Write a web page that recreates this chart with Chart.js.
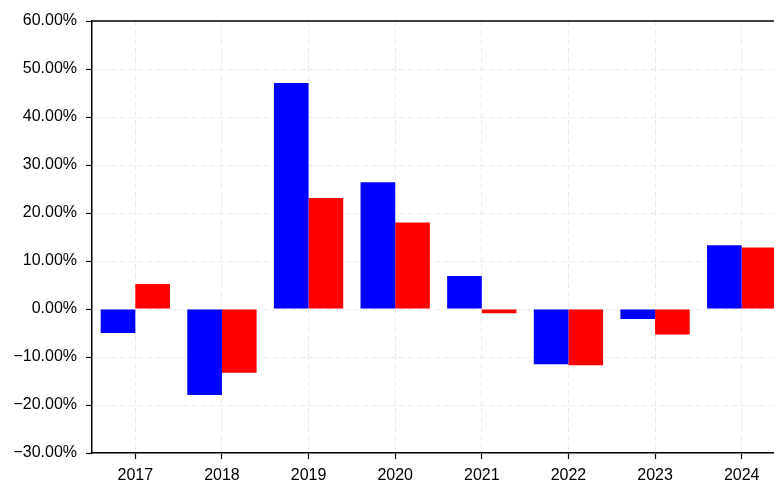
<!DOCTYPE html>
<html>
<head>
<meta charset="utf-8">
<script src="https://cdn.jsdelivr.net/npm/chart.js@4"></script>
<style>
html, body { margin: 0; padding: 0; background: #fff; overflow: hidden; width: 774px; height: 481px; }
#wrap { position: absolute; left: 0; top: 0; width: 800px; height: 481px; }
canvas { display: block; }
</style>
</head>
<body>
<div id="wrap"><canvas id="c" width="800" height="481"></canvas></div>
<script>
const categories = ['2017', '2018', '2019', '2020', '2021', '2022', '2023', '2024'];
const seriesBlue = [-5.0, -17.9, 47.1, 26.4, 6.9, -11.5, -2.1, 13.3];
const seriesRed = [5.2, -13.3, 23.1, 18.0, -0.9, -11.7, -5.3, 12.8];
const yMin = -30, yMax = 60, yStep = 10;

const FONT = "'Liberation Sans', Arial, sans-serif";

const topBorder = {
  id: 'topBorder',
  afterDraw(chart) {
    const { ctx, chartArea } = chart;
    ctx.save();
    ctx.strokeStyle = '#000';
    ctx.lineWidth = 1.5;
    ctx.beginPath();
    ctx.moveTo(chartArea.left, chartArea.top);
    ctx.lineTo(chartArea.right, chartArea.top);
    ctx.stroke();
    ctx.restore();
  }
};

new Chart(document.getElementById('c'), {
  type: 'bar',
  data: {
    labels: categories,
    datasets: [
      { data: seriesBlue, backgroundColor: '#0000ff', borderWidth: 0, categoryPercentage: 0.8, barPercentage: 1.0 },
      { data: seriesRed, backgroundColor: '#ff0000', borderWidth: 0, categoryPercentage: 0.8, barPercentage: 1.0 }
    ]
  },
  options: {
    responsive: false,
    animation: false,
    devicePixelRatio: 1,
    layout: { padding: { top: 21, right: 15, left: 0, bottom: 0 } },
    plugins: { legend: { display: false }, tooltip: { enabled: false } },
    scales: {
      x: {
        offset: true,
        afterFit(scale) { scale.height = 28; },
        grid: { offset: false, color: '#ebebeb', lineWidth: 1, tickLength: 6, tickColor: '#000', tickWidth: 1.2 },
        border: { display: true, color: '#000', width: 1.5, dash: [6, 3] },
        ticks: { color: '#000', font: { family: FONT, size: 16 }, padding: 7, maxRotation: 0 }
      },
      y: {
        min: yMin, max: yMax,
        afterFit(scale) { scale.width = 92; },
        grid: { color: '#ebebeb', lineWidth: 1, tickLength: 6, tickColor: '#000', tickWidth: 1.2 },
        border: { display: true, color: '#000', width: 1.5, dash: [6, 3] },
        ticks: {
          stepSize: yStep,
          color: '#000',
          font: { family: FONT, size: 16 },
          padding: 9,
          callback: (v) => (v < 0 ? '\u2212' : '') + Math.abs(v).toFixed(2) + '%'
        }
      }
    }
  },
  plugins: [topBorder]
});
</script>
</body>
</html>
